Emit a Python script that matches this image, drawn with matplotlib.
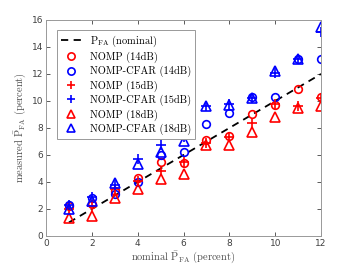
import numpy as np
import matplotlib.pyplot as plt

plt.rcParams['mathtext.fontset'] = 'cm'
plt.rcParams['font.family'] = 'DejaVu Sans'

# ---------------- data ----------------
nominal = [1, 2, 3, 4, 5, 6, 7, 8, 9, 10, 11, 12]

nomp_14 = [2.2, 2.4, 3.3, 4.3, 5.5, 5.4, 7.1, 7.4, 9.0, 9.7, 10.9, 10.3]
cfar_14 = [2.3, 2.8, 3.1, 4.0, 6.0, 6.2, 8.3, 9.1, 10.3, 10.3, 13.1, 13.1]
nomp_15 = [2.0, 2.2, 3.5, 4.1, 4.8, 5.5, 6.9, 7.3, 8.4, 9.8, 9.6, 10.2]
cfar_15 = [2.3, 2.9, 3.8, 5.7, 6.7, 7.3, 9.6, 9.8, 10.2, 12.1, 13.1, 15.1]
nomp_18 = [1.3, 1.5, 2.8, 3.5, 4.2, 4.6, 6.7, 6.7, 7.7, 8.8, 9.5, 9.6]
cfar_18 = [2.0, 2.6, 3.9, 5.3, 6.2, 7.0, 9.6, 9.7, 10.2, 12.2, 13.1, 15.5]

fig = plt.figure(figsize=(3.54, 2.66), dpi=100)
ax = fig.add_axes([0.13, 0.113, 0.777, 0.812])

ms = 5.5
mew = 1.2
ax.plot(nominal, nominal, '--', color='k', lw=1.3, dashes=(4, 3),
        label=r'P$_{\mathrm{FA}}$ (nominal)')
ax.plot(nominal, nomp_14, 'o', color='r', mfc='none', ms=ms, mew=mew, ls='none',
        label='NOMP (14dB)')
ax.plot(nominal, cfar_14, 'o', color='b', mfc='none', ms=ms, mew=mew, ls='none',
        label='NOMP-CFAR (14dB)')
ax.plot(nominal, nomp_15, '+', color='r', ms=ms + 1, mew=mew, ls='none',
        label='NOMP (15dB)')
ax.plot(nominal, cfar_15, '+', color='b', ms=ms + 1, mew=mew, ls='none',
        label='NOMP-CFAR (15dB)')
ax.plot(nominal, nomp_18, '^', color='r', mfc='none', ms=ms + 1, mew=mew, ls='none',
        label='NOMP (18dB)')
ax.plot(nominal, cfar_18, '^', color='b', mfc='none', ms=ms + 1, mew=mew, ls='none',
        label='NOMP-CFAR (18dB)')

ax.set_xlim(0, 12)
ax.set_ylim(0, 16)
ax.set_xticks(np.arange(0, 13, 2))
ax.set_yticks(np.arange(0, 17, 2))
ax.tick_params(direction='in', top=True, right=True, labelsize=6.5,
               length=3, width=0.6, colors='0.25', pad=2)
for sp in ax.spines.values():
    sp.set_color('0.6')
    sp.set_linewidth(0.7)

ax.set_xlabel(r'nominal $\bar{\mathrm{P}}_{\mathrm{FA}}$ (percent)',
              fontsize=7.5, color='0.3', labelpad=1, family='cmr10')
ax.set_ylabel(r'measured $\bar{\mathrm{P}}_{\mathrm{FA}}$ (percent)',
              fontsize=7.5, color='0.3', labelpad=3, family='cmr10')

leg = ax.legend(loc='upper left', prop={'family': 'cmr10', 'size': 7.5},
                frameon=True, fancybox=False, framealpha=1,
                edgecolor='0.6', handlelength=2.0, borderpad=0.35,
                labelspacing=0.3, handletextpad=0.8, borderaxespad=0,
                markerscale=0.95, bbox_to_anchor=(0.04, 0.955))
leg.get_frame().set_linewidth(0.7)

fig.savefig('out.png', dpi=100)
